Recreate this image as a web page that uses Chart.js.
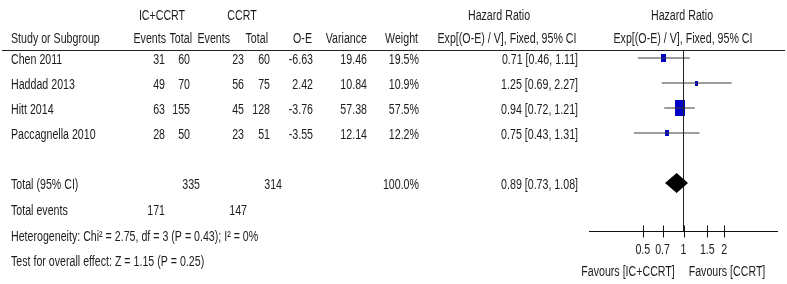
<!DOCTYPE html>
<html>
<head>
<meta charset="utf-8">
<script src="https://cdn.jsdelivr.net/npm/chart.js@4"></script>
<style>
  body { margin: 0; background: #fff; }
  #wrap { width: 787px; height: 284px; position: relative; }
</style>
</head>
<body>
<div id="wrap"><canvas id="forest"></canvas></div>
<script>
// study data
var studies = ['Chen 2011', 'Haddad 2013', 'Hitt 2014', 'Paccagnella 2010'];
var icEvents = [31, 49, 63, 28];
var icTotal = [60, 70, 155, 50];
var ccEvents = [23, 56, 45, 23];
var ccTotal = [60, 75, 128, 51];
var oeVals = ['-6.63', '2.42', '-3.76', '-3.55'];
var variances = ['19.46', '10.84', '57.38', '12.14'];
var weights = [19.5, 10.9, 57.5, 12.2];
var hr = [0.71, 1.25, 0.94, 0.75];
var hrLow = [0.46, 0.69, 0.72, 0.43];
var hrHigh = [1.11, 2.27, 1.21, 1.31];

// pooled
var totalIc = 335, totalCc = 314;
var eventsIc = 171, eventsCc = 147;
var pooled = [0.73, 0.89, 1.08];

var tickVals = [0.5, 0.7, 1, 1.5, 2];

var FONT = '14px "Liberation Sans", Arial, sans-serif';
var TXT = '#1c1c1c';
var SX = 0.76;

function fmt(v) { return v.toFixed(2); }

function squareImg(w) {
    // box size from weight
    var f = Math.pow(w / 57.5, 0.65);
    var c = document.createElement('canvas');
    c.width = Math.max(3, Math.round(10 * f));
    c.height = Math.max(5, Math.round(16 * f));
    var g = c.getContext('2d');
    g.fillStyle = '#0000c8';
    g.fillRect(0, 0, c.width, c.height);
    return c;
}

function txt(ctx, s, x, y, align) {
    ctx.save();
    ctx.translate(x, y);
    ctx.scale(SX, 1);
    ctx.textAlign = align || 'left';
    ctx.textBaseline = 'middle';
    ctx.fillText(s, 0, 0);
    ctx.restore();
}

var datasets = [];
// line of no effect
datasets.push({
    type: 'line',
    data: [{x: 1, y: -0.32}, {x: 1, y: 6.92}],
    borderColor: '#222', borderWidth: 1, pointRadius: 0
});
studies.forEach(function (s, i) {
    datasets.push({
        type: 'line',
        data: [{x: hrLow[i], y: i}, {x: hrHigh[i], y: i}],
        borderColor: '#3a3a3a', borderWidth: 1, pointRadius: 0
    });
});
datasets.push({
    type: 'scatter',
    data: hr.map(function (v, i) { return {x: v, y: i}; }),
    pointStyle: weights.map(squareImg),
    pointRadius: 3
});

var tablePlugin = {
    id: 'table',
    afterDraw: function (chart) {
        var ctx = chart.ctx;
        var xs = chart.scales.x, ys = chart.scales.y;
        ctx.save();
        ctx.font = FONT;
        ctx.fillStyle = TXT;

        // headers
        txt(ctx, 'IC+CCRT', 162, 16, 'center');
        txt(ctx, 'CCRT', 242, 16, 'center');
        txt(ctx, 'Hazard Ratio', 499, 16, 'center');
        txt(ctx, 'Hazard Ratio', 682, 16, 'center');
        txt(ctx, 'Study or Subgroup', 11, 39);
        txt(ctx, 'Events', 166, 39, 'right');
        txt(ctx, 'Total', 192, 39, 'right');
        txt(ctx, 'Events', 230, 39, 'right');
        txt(ctx, 'Total', 268, 39, 'right');
        txt(ctx, 'O-E', 312, 39, 'right');
        txt(ctx, 'Variance', 367, 39, 'right');
        txt(ctx, 'Weight', 418, 39, 'right');
        txt(ctx, 'Exp[(O-E) / V], Fixed, 95% CI', 507, 39, 'center');
        txt(ctx, 'Exp[(O-E) / V], Fixed, 95% CI', 683, 39, 'center');

        ctx.strokeStyle = '#222';
        ctx.lineWidth = 1;
        ctx.beginPath();
        ctx.moveTo(2, 50.5);
        ctx.lineTo(785, 50.5);
        ctx.stroke();

        // study rows
        studies.forEach(function (s, i) {
            var y = ys.getPixelForValue(i) + 2;
            txt(ctx, s, 11, y);
            txt(ctx, String(icEvents[i]), 165, y, 'right');
            txt(ctx, String(icTotal[i]), 190, y, 'right');
            txt(ctx, String(ccEvents[i]), 244, y, 'right');
            txt(ctx, String(ccTotal[i]), 270, y, 'right');
            txt(ctx, oeVals[i], 313, y, 'right');
            txt(ctx, variances[i], 367, y, 'right');
            txt(ctx, weights[i].toFixed(1) + '%', 419, y, 'right');
            txt(ctx, fmt(hr[i]) + ' [' + fmt(hrLow[i]) + ', ' + fmt(hrHigh[i]) + ']', 578, y, 'right');
        });

        // totals
        var yt = ys.getPixelForValue(5) + 2;
        txt(ctx, 'Total (95% CI)', 11, yt);
        txt(ctx, String(totalIc), 200, yt, 'right');
        txt(ctx, String(totalCc), 282, yt, 'right');
        txt(ctx, '100.0%', 419, yt, 'right');
        txt(ctx, fmt(pooled[1]) + ' [' + fmt(pooled[0]) + ', ' + fmt(pooled[2]) + ']', 578, yt, 'right');
        txt(ctx, 'Total events', 11, 211);
        txt(ctx, String(eventsIc), 165, 211, 'right');
        txt(ctx, String(eventsCc), 247, 211, 'right');
        txt(ctx, 'Heterogeneity: Chi\u00b2 = 2.75, df = 3 (P = 0.43); I\u00b2 = 0%', 11, 237);
        txt(ctx, 'Test for overall effect: Z = 1.15 (P = 0.25)', 11, 262);

        // pooled diamond
        var yc = ys.getPixelForValue(5);
        var yd = ys.getPixelForValue(5.4) - yc;
        ctx.fillStyle = '#000';
        ctx.beginPath();
        ctx.moveTo(xs.getPixelForValue(pooled[0]), yc);
        ctx.lineTo(xs.getPixelForValue(pooled[1]), yc - yd);
        ctx.lineTo(xs.getPixelForValue(pooled[2]), yc);
        ctx.lineTo(xs.getPixelForValue(pooled[1]), yc + yd);
        ctx.closePath();
        ctx.fill();

        // x axis
        var ya = Math.round(chart.chartArea.bottom) + 0.5;
        ctx.strokeStyle = '#111';
        ctx.beginPath();
        ctx.moveTo(xs.left, ya);
        ctx.lineTo(xs.right, ya);
        tickVals.forEach(function (t) {
            var px = Math.round(xs.getPixelForValue(t)) + 0.5;
            ctx.moveTo(px, ya - 6);
            ctx.lineTo(px, ya + 6);
        });
        ctx.stroke();
        ctx.fillStyle = TXT;
        tickVals.forEach(function (t) {
            txt(ctx, String(t), xs.getPixelForValue(t), 250, 'center');
        });
        txt(ctx, 'Favours [IC+CCRT]', 628, 272, 'center');
        txt(ctx, 'Favours [CCRT]', 727, 272, 'center');
        ctx.restore();
    }
};

new Chart(document.getElementById('forest'), {
    data: { datasets: datasets },
    options: {
        responsive: true,
        maintainAspectRatio: false,
        animation: false,
        layout: { padding: { left: 589, right: 9, top: 50, bottom: 53 } },
        plugins: { legend: { display: false }, tooltip: { enabled: false } },
        scales: {
            x: { type: 'logarithmic', min: 0.2, max: 5, display: false },
            y: { type: 'linear', min: -0.32, max: 6.92, reverse: true, display: false }
        }
    },
    plugins: [tablePlugin]
});
</script>
</body>
</html>
